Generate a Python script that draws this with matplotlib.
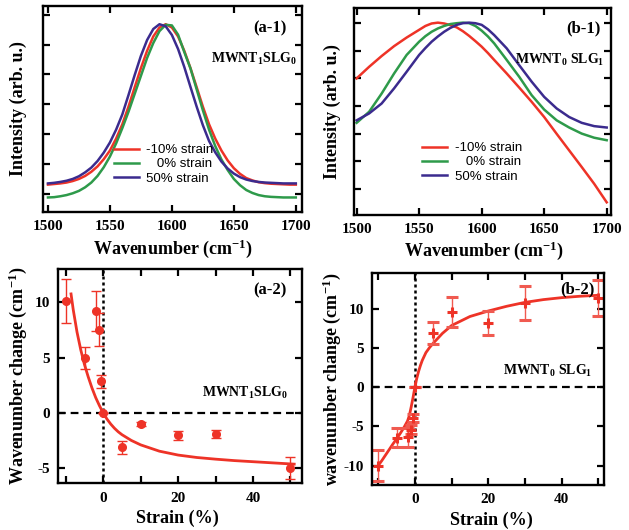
"""Raman G-band shifts of MWNT/SLG composites under strain (4 panels)."""

import matplotlib

matplotlib.use("Agg")
import matplotlib.pyplot as plt

plt.rcParams.update({
    "font.family": ["Liberation Serif", "DejaVu Serif"],
    "font.weight": "bold",
    "axes.labelweight": "bold",
    "axes.unicode_minus": False,
    "mathtext.fontset": "custom",
    "mathtext.rm": "Liberation Serif:bold",
    "mathtext.bf": "Liberation Serif:bold",
    "mathtext.it": "Liberation Serif:bold:italic",
})

RED = "#ee3327"
GREEN = "#2e9a4a"
BLUE = "#3b2b8e"

# ---- (a-1) MWNT1 SLG0 spectra
wn_a = [1500, 1505, 1510, 1515, 1520, 1525, 1530, 1535, 1540, 1545, 1550, 1555,
        1560, 1565, 1570, 1575, 1580, 1585, 1590, 1595, 1600, 1605, 1610, 1615,
        1620, 1625, 1630, 1635, 1640, 1645, 1650, 1655, 1660, 1665, 1670, 1675,
        1680, 1685, 1690, 1695, 1700]
a1_m10 = [0.31, 0.33, 0.35, 0.38, 0.43, 0.50, 0.60, 0.74, 0.92, 1.16, 1.45, 1.85,
          2.33, 2.92, 3.57, 4.21, 4.79, 5.27, 5.57, 5.68, 5.57, 5.27, 4.79, 4.21,
          3.57, 2.92, 2.33, 1.85, 1.45, 1.12, 0.86, 0.67, 0.53, 0.45, 0.39, 0.36,
          0.34, 0.33, 0.32, 0.31, 0.31]
a1_0 = [-0.12, -0.11, -0.08, -0.04, 0.02, 0.10, 0.22, 0.38, 0.60, 0.89, 1.25, 1.69,
        2.20, 2.75, 3.35, 3.95, 4.55, 5.05, 5.45, 5.66, 5.64, 5.33, 4.75, 4.20,
        3.50, 2.80, 2.15, 1.60, 1.15, 0.80, 0.50, 0.29, 0.13, 0.03, -0.04, -0.08,
        -0.10, -0.11, -0.12, -0.12, -0.12]
a1_50 = [0.35, 0.37, 0.40, 0.44, 0.50, 0.59, 0.72, 0.88, 1.10, 1.38, 1.72, 2.15,
         2.66, 3.31, 3.98, 4.62, 5.15, 5.52, 5.68, 5.61, 5.32, 4.85, 4.25, 3.58,
         2.92, 2.30, 1.77, 1.39, 1.08, 0.85, 0.68, 0.56, 0.48, 0.43, 0.40, 0.38,
         0.37, 0.36, 0.35, 0.35, 0.35]

# ---- (b-1) MWNT0 SLG1 spectra
wn_b = [1500, 1510, 1520, 1530, 1540, 1550, 1555, 1560, 1565, 1570, 1575, 1580,
        1585, 1590, 1595, 1600, 1605, 1610, 1620, 1630, 1640, 1650, 1660, 1670,
        1680, 1690, 1700]
b1_m10 = [4.00, 4.42, 4.81, 5.17, 5.48, 5.76, 5.90, 5.99, 6.02, 5.99, 5.93, 5.85,
          5.71, 5.54, 5.35, 5.15, 4.92, 4.67, 4.18, 3.67, 3.15, 2.60, 1.99, 1.39,
          0.79, 0.18, -0.49]
b1_0 = [2.39, 2.79, 3.45, 4.18, 4.85, 5.33, 5.53, 5.69, 5.81, 5.90, 5.97, 6.00,
        6.02, 6.00, 5.90, 5.73, 5.52, 5.27, 4.67, 4.06, 3.39, 2.87, 2.48, 2.22,
        2.00, 1.85, 1.76]
b1_50 = [2.48, 2.73, 3.09, 3.64, 4.24, 4.85, 5.10, 5.33, 5.52, 5.69, 5.83, 5.94,
         6.00, 6.02, 6.00, 5.94, 5.78, 5.57, 5.09, 4.48, 3.88, 3.33, 2.91, 2.60,
         2.39, 2.27, 2.22]

strain_labels = ["-10% strain", "   0% strain", "50% strain"]
wn_ticks = [1500, 1550, 1600, 1650, 1700]
wn_ticklabels = ["1500", "1550", "1600", "1650", "1700"]

# ---- (a-2) peak shift vs strain, MWNT1 SLG0
strain_a = [-10, -5, -2, -1, -0.5, 0, 5, 10, 20, 30, 50]
shift_a = [10.1, 4.97, 9.24, 7.53, 2.86, 0, -3.1, -0.99, -2.0, -1.9, -4.94]
err_a = [2.0, 0.97, 1.8, 1.5, 0.6, 0, 0.6, 0.2, 0.4, 0.35, 1.0]
fit_x_a = [-8.6, -8, -7, -6, -5, -4, -3, -2, -1, 0, 1, 2, 3, 4, 5, 7.5, 10, 15,
           20, 25, 30, 35, 40, 45, 51]
fit_y_a = [10.75, 9.3, 7.3, 5.7, 4.36, 3.25, 2.25, 1.38, 0.65, 0, -0.55, -1.0,
           -1.38, -1.7, -1.96, -2.48, -2.88, -3.45, -3.8, -4.02, -4.17, -4.3,
           -4.4, -4.5, -4.62]
yticks_a = [-5, 0, 5, 10]
yticklabels_a = ["-5", "0", "5", "10"]

# ---- (b-2) peak shift vs strain, MWNT0 SLG1
strain_b = [-10, -5, -2, -1, -0.5, 0, 5, 10, 20, 30, 50]
shift_b = [-10.0, -6.42, -6.4, -5.4, -3.9, 0, 6.9, 9.54, 8.17, 10.73, 11.37]
err_b = [1.95, 1.25, 1.2, 0.6, 0.5, 0, 1.4, 1.9, 1.5, 2.2, 2.25]
fit_x_b = [-10, -9, -8, -7, -6, -5, -4, -3, -2, -1.5, -1, -0.5, 0, 0.5, 1, 1.5,
           2, 3, 4, 5, 7.5, 10, 15, 20, 25, 30, 35, 40, 45, 50]
fit_y_b = [-10.0, -9.35, -8.65, -7.95, -7.25, -6.6, -5.9, -5.15, -4.3, -3.6,
           -2.5, -1.3, 0, 1.1, 2.0, 2.75, 3.4, 4.4, 5.05, 5.6, 6.85, 7.85, 9.0,
           9.7, 10.3, 10.8, 11.15, 11.4, 11.58, 11.7]
yticks_b = [-10, -5, 0, 5, 10]
yticklabels_b = ["-10", "-5", "0", "5", "10"]

strain_ticks = [-10, 0, 10, 20, 30, 40, 50]
strain_ticklabels = ["", "0", "", "20", "", "40", ""]


def add_axes(fig, left, right, top, bottom):
    w, h = fig.get_size_inches() * fig.dpi
    return fig.add_axes([left / w, 1 - bottom / h, (right - left) / w, (bottom - top) / h])


def style(ax):
    for sp in ax.spines.values():
        sp.set_linewidth(1.7)
    ax.tick_params(direction="in", top=True, right=True, length=5, width=1.6,
                   labelsize=11, pad=6)


def spectra(ax, wn, curves, xlim, ylim, tag, sample, sample_y, leg_xy):
    for y, c, lab in zip(curves, [RED, GREEN, BLUE], strain_labels):
        ax.plot(wn, y, color=c, lw=1.8, label=lab, solid_joinstyle="round")
    ax.set_xlim(*xlim)
    ax.set_ylim(*ylim)
    ax.set_xticks(wn_ticks, wn_ticklabels, fontweight="bold")
    ax.set_yticks(range(7), [""] * 7)
    style(ax)
    ax.set_xlabel("Wavenumber (cm$^{-1}$)", fontsize=13)
    ax.set_ylabel("Intensity (arb. u.)", fontsize=13)
    ax.text(tag[0], tag[1], tag[2], transform=ax.transAxes, ha="right",
            va="center", fontsize=12)
    ax.text(sample_y[0], sample_y[1], sample, transform=ax.transAxes,
            ha="right", va="center", fontsize=10)
    ax.legend(loc="center", bbox_to_anchor=leg_xy, frameon=False,
              prop={"family": "Liberation Sans", "weight": "normal", "size": 9.5},
              handlelength=1.85, handletextpad=0.6, labelspacing=0.15,
              borderpad=0)


def shifts(ax, x, y, err, fx, fy, marker, xlim, ylim, yticks, yticklabels, ylabel):
    ax.axhline(0, color="black", lw=1.6, dashes=(3.5, 2.2))
    ax.axvline(0, color="black", lw=1.8, dashes=(1.2, 1.2))
    ax.plot(fx, fy, color=RED, lw=2.0, solid_joinstyle="round")
    if marker == "o":
        ax.errorbar(x, y, yerr=err, fmt="o", color=RED, ms=5.5, ecolor=RED,
                    elinewidth=1.0, capsize=3.5, capthick=1.0)
    else:
        ax.errorbar(x, y, yerr=err, fmt="+", color=RED, ms=7, mew=2.2,
                    ecolor="#f05a50", elinewidth=1.0, capsize=4, capthick=1.0)
    ax.set_xlim(*xlim)
    ax.set_ylim(*ylim)
    ax.set_xticks(strain_ticks, strain_ticklabels, fontweight="bold")
    ax.set_yticks(yticks, yticklabels, fontweight="bold")
    style(ax)
    ax.set_xlabel("Strain (%)", fontsize=13)
    ax.set_ylabel(ylabel, fontsize=13)


fig = plt.figure(figsize=(6.29, 5.30), dpi=100)

ax1 = add_axes(fig, 43, 302, 6, 211.5)
spectra(ax1, wn_a, [a1_m10, a1_0, a1_50], (1496, 1705), (-0.59, 6.29),
        (0.94, 0.893, "(a-1)"), "MWNT$_1$SLG$_0$", (0.98, 0.742), (0.467, 0.23))
ax1.xaxis.set_label_coords(0.5, -0.125)
ax1.yaxis.set_label_coords(-0.062, 0.5)

ax2 = add_axes(fig, 354, 610.7, 8.3, 215)
spectra(ax2, wn_b, [b1_m10, b1_0, b1_50], (1497.9, 1703.2), (-0.95, 6.54),
        (0.962, 0.905, "(b-1)"), "MWNT$_0$ SLG$_1$", (0.974, 0.75), (0.46, 0.255))
ax2.xaxis.set_label_coords(0.506, -0.12)
ax2.yaxis.set_label_coords(-0.05, 0.5)

ax3 = add_axes(fig, 58.3, 301.7, 269, 483.3)
shifts(ax3, strain_a, shift_a, err_a, fit_x_a, fit_y_a, "o", (-12, 53),
       (-6.35, 13.0), yticks_a, yticklabels_a, "Wavenumber change (cm$^{-1}$)")
ax3.text(0.94, 0.90, "(a-2)", transform=ax3.transAxes, ha="right", va="center",
         fontsize=12)
ax3.text(0.944, 0.42, "MWNT$_1$SLG$_0$", transform=ax3.transAxes, ha="right",
         va="center", fontsize=10)
ax3.xaxis.set_label_coords(0.49, -0.125)
ax3.yaxis.set_label_coords(-0.12, 0.5)

ax4 = add_axes(fig, 372.3, 604, 273.3, 485)
shifts(ax4, strain_b, shift_b, err_b, fit_x_b, fit_y_b, "+", (-11.6, 51.5),
       (-12.46, 14.5), yticks_b, yticklabels_b, "wavenumber change (cm$^{-1}$)")
ax4.text(0.961, 0.922, "(b-2)", transform=ax4.transAxes, ha="right",
         va="center", fontsize=12)
ax4.text(0.948, 0.54, "MWNT$_0$ SLG$_1$", transform=ax4.transAxes, ha="right",
         va="center", fontsize=10)
ax4.xaxis.set_label_coords(0.512, -0.126)
ax4.yaxis.set_label_coords(-0.126, 0.5)

fig.canvas.draw()
for ax in (ax1, ax2, ax3, ax4):
    for lab in ax.get_xticklabels() + ax.get_yticklabels():
        lab.set_fontweight("bold")

fig.savefig("out.png", dpi=100)
